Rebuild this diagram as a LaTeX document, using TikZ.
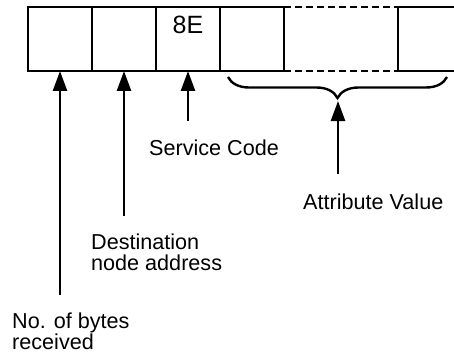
\documentclass[tikz,border=0pt]{standalone}
\usepackage{fontspec}
\setmainfont{Liberation Sans}
\usetikzlibrary{arrows.meta,decorations.pathreplacing}

\begin{document}
\begin{tikzpicture}[x=0.5pt, y=-0.5pt, line width=1.2pt,
        cell/.style={draw, minimum width=32pt, minimum height=32pt, inner sep=0pt, outer sep=0pt},
        ptr/.style={-{Triangle[length=10pt, width=7pt]}, line width=1.3pt},
        txt/.style={anchor=north west, inner sep=0pt, align=left, font=\fontsize{10.8}{10.2}\selectfont}]
        \useasboundingbox (0,0) rectangle (454,353);

        \node[cell] (c1) at (60,39) {};
        \node[cell] (c2) at (124,39) {};
        \node[cell, label={[anchor=north, inner sep=4pt, font=\fontsize{12.5}{14}\selectfont]north:8E}] (c3) at (188,39) {};
        \node[cell] (c4) at (252,39) {};
        \node[cell] (c5) at (430,39) {};

        \draw[dash pattern=on 3.5pt off 2pt] (c4.north east) -- (c5.north west);
        \draw[dash pattern=on 3.5pt off 2pt] (c4.south east) -- (c5.south west);

        \coordinate (bl) at (228,77);
        \coordinate (br) at (447,77);
        \draw[decorate, decoration={brace, mirror, amplitude=10.5pt}] (bl) -- (br);

        \node[txt] (svc) at (148,139) {Service Code};
        \node[txt] (attr) at (302,193) {Attribute Value};
        \node[txt] (dst) at (90,233) {Destination\\node address};
        \node[txt] (nob) at (11,312) {No. of bytes\\received};

        \coordinate (t1) at (60,295);
        \coordinate (t2) at (124,216);
        \coordinate (t3) at (188,121);
        \coordinate (t4) at (338,174);
        \coordinate (bt) at (338,101);

        \draw[ptr] (t1) -- (c1.south);
        \draw[ptr] (t2) -- (c2.south);
        \draw[ptr] (t3) -- (c3.south);
        \draw[ptr] (t4) -- (bt);
\end{tikzpicture}
\end{document}
